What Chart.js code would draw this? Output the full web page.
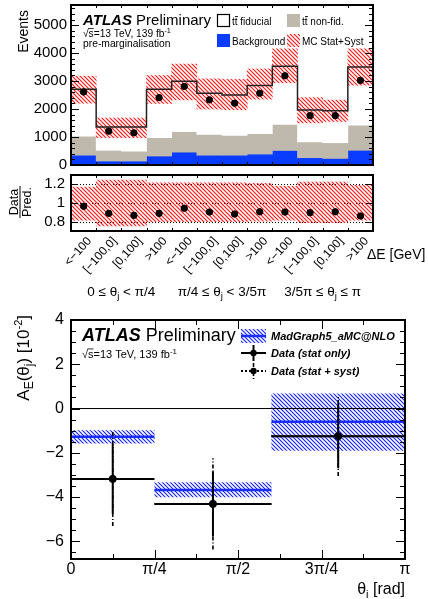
<!DOCTYPE html>
<html>
<head>
<meta charset="utf-8">
<title>Energy asymmetry</title>
<script src="https://cdn.jsdelivr.net/npm/chart.js@4/dist/chart.umd.min.js"></script>
<style>
  html, body { margin: 0; padding: 0; background: #fff; }
  #wrap { position: relative; width: 428px; height: 599px; overflow: hidden; }
  canvas { position: absolute; left: 0; }
</style>
</head>
<body>
<div id="wrap">
  <canvas id="events" width="428" height="170" style="top:0"></canvas>
  <canvas id="ratio" width="428" height="140" style="top:170px"></canvas>
  <canvas id="asym" width="428" height="299" style="top:300px"></canvas>
</div>
<script>
// ---- bins ----
const deltaEBins = ["<\u2212100", "[\u2212100,0]", "[0,100]", ">100"];
const thetaRegions = [
  ["0 \u2264 \u03b8", "j", " < \u03c0/4"],
  ["\u03c0/4 \u2264 \u03b8", "j", " < 3/5\u03c0"],
  ["3/5\u03c0 \u2264 \u03b8", "j", " \u2264 \u03c0"]
];

// ---- pre-marginalisation yields (12 bins) ----
const backgroundEvt = [350, 140, 140, 320, 460, 350, 350, 390, 520, 260, 235, 525];
const ttNonFid = [680, 385, 355, 660, 730, 745, 710, 730, 930, 565, 560, 900];
const ttFiducial = [1675, 830, 860, 1725, 1800, 1470, 1445, 1725, 2080, 1140, 1145, 2080];
const dataEvt = [2610, 1210, 1150, 2410, 2810, 2330, 2210, 2565, 3190, 1765, 1765, 3025];
const mcUncLo = [2210, 975, 975, 2200, 2330, 2000, 1975, 2355, 2940, 1505, 1555, 2850];
const mcUncHi = [3175, 1680, 1680, 3200, 3610, 3080, 3060, 3435, 4150, 2410, 2320, 4150];
const eventTicks = [0, 1000, 2000, 3000, 4000, 5000];

// ---- data / prediction ----
const ratioData = [0.965, 0.889, 0.868, 0.889, 0.944, 0.903, 0.882, 0.906, 0.903, 0.896, 0.906, 0.861];
const ratioUncLo = [0.815, 0.755, 0.755, 0.80, 0.80, 0.80, 0.80, 0.805, 0.815, 0.79, 0.79, 0.815];
const ratioUncHi = [1.17, 1.245, 1.245, 1.215, 1.215, 1.215, 1.215, 1.21, 1.18, 1.225, 1.225, 1.19];
const ratioTicks = [0.8, 1, 1.2];

// ---- A_E(theta_j) in units of 1e-2 ----
const thetaEdges = [0, Math.PI / 4, 0.6 * Math.PI, Math.PI];
const mcAsym = [-1.28, -3.68, -0.60];
const mcAsymLo = [-1.58, -4.01, -1.91];
const mcAsymHi = [-0.98, -3.33, 0.68];
const dataAsym = [-3.18, -4.31, -1.25];
const dataStatErr = [1.58, 1.47, 1.45];
const dataTotErr = [2.13, 2.06, 1.80];
const asymTicks = [-6, -4, -2, 0, 2, 4];
const thetaTickLabels = ["0", "\u03c0/4", "\u03c0/2", "3\u03c0/4", "\u03c0"];

const FONT = "'Liberation Sans', Arial, Helvetica, sans-serif";
const GRAY = '#bfb8ad';
const BLUE = '#0a3cff';

function hatch(color, step, width) {
  const c = document.createElement('canvas');
  c.width = c.height = step;
  const g = c.getContext('2d');
  g.strokeStyle = color;
  g.lineWidth = width;
  g.beginPath();
  g.moveTo(-1, -1); g.lineTo(step + 1, step + 1);
  g.moveTo(-1, step - 1); g.lineTo(1, step + 1);
  g.moveTo(step - 1, -1); g.lineTo(step + 1, 1);
  g.stroke();
  return g.createPattern(c, 'repeat');
}
const redHatch = hatch('#ff1a1a', 4, 1.2);
const blueHatch = hatch('#1020ff', 4, 1.1);

const fontOf = p => `${p[2] || ''} ${p[1]}px ${FONT}`;
// draws a run of text pieces: [text, size, style, baseline shift]
function rich(ctx, parts, x, y, align) {
  let w = 0;
  parts.forEach(p => { ctx.font = fontOf(p); w += ctx.measureText(p[0]).width; });
  let cx = align === 'right' ? x - w : align === 'center' ? x - w / 2 : x;
  ctx.textAlign = 'left';
  ctx.textBaseline = 'alphabetic';
  parts.forEach(p => {
    ctx.font = fontOf(p);
    ctx.fillText(p[0], cx, y + (p[3] || 0));
    cx += ctx.measureText(p[0]).width;
  });
}
// "tt" with a bar over the second t
function ttbar(ctx, x, y, rest, size) {
  ctx.font = `${size}px ${FONT}`;
  ctx.textAlign = 'left';
  const wt = ctx.measureText('t').width;
  ctx.fillText('tt' + rest, x, y);
  ctx.fillRect(x + wt + 0.3, y - size * 0.9, wt, 0.9);
}
// sqrt(s) line with the overbar of the radical
function energyLine(ctx, x, y, size) {
  rich(ctx, [["\u221as=13 TeV, 139 fb", size], ["-1", size * 0.72, '', -size * 0.38]], x, y, 'left');
  ctx.font = `${size}px ${FONT}`;
  const wr = ctx.measureText('\u221a').width;
  const ws = ctx.measureText('s').width;
  ctx.fillRect(x + wr - 0.6, y - size * 0.86, ws + 0.6, 0.8);
}

function tickList(from, to, step, len) {
  const out = [];
  for (let v = from; v <= to + 1e-9; v += step) out.push([v, len]);
  return out;
}

// ROOT style frame with inward ticks on all four sides
const rootFrame = {
  id: 'rootFrame',
  afterDatasetsDraw(chart, args, opts) {
    const {ctx, chartArea: a} = chart;
    const xs = chart.scales.x, ys = chart.scales.y;
    ctx.save();
    ctx.strokeStyle = '#000';
    ctx.lineWidth = 1;
    ctx.beginPath();
    (opts.xTicks || []).forEach(([v, len]) => {
      const px = Math.round(xs.getPixelForValue(v)) + 0.5;
      ctx.moveTo(px, a.bottom); ctx.lineTo(px, a.bottom - len);
      ctx.moveTo(px, a.top); ctx.lineTo(px, a.top + len);
    });
    (opts.yTicks || []).forEach(([v, len]) => {
      const py = Math.round(ys.getPixelForValue(v)) + 0.5;
      ctx.moveTo(a.left, py); ctx.lineTo(a.left + len, py);
      ctx.moveTo(a.right, py); ctx.lineTo(a.right - len, py);
    });
    ctx.stroke();
    ctx.lineWidth = 2;
    ctx.strokeRect(a.left, a.top, a.right - a.left, a.bottom - a.top);
    ctx.restore();
  }
};

function yAxis(min, max, ticks, width, size, pad, fmt) {
  return {
    min: min, max: max,
    grid: {display: false, drawTicks: false},
    border: {display: false},
    afterBuildTicks: s => { s.ticks = ticks.map(v => ({value: v})); },
    afterFit: s => { s.width = width; s.paddingTop = 0; s.paddingBottom = 0; },
    ticks: {font: {family: FONT, size: size}, color: '#000', padding: pad, autoSkip: false,
            callback: fmt || (v => String(v))}
  };
}

const binCenters = backgroundEvt.map((v, i) => i + 0.5);
const common = {
  responsive: false,
  animation: false,
  events: [],
  plugins: {legend: {display: false}, tooltip: {enabled: false}}
};

// ================= event yields =================
const nonFidTop = backgroundEvt.map((b, i) => b + ttNonFid[i]);
const mcTotal = nonFidTop.map((b, i) => b + ttFiducial[i]);
// step outline: each point carries the level of the bin that ends there
const totalStep = [{x: 0, y: mcTotal[0]}].concat(mcTotal.map((v, i) => ({x: i + 1, y: v})));

new Chart(document.getElementById('events'), {
  type: 'bar',
  data: {
    datasets: [
      {type: 'scatter', data: dataEvt.map((v, i) => ({x: binCenters[i], y: v})),
       pointRadius: 3.2, pointBackgroundColor: '#000', pointBorderColor: '#000', order: 0},
      {type: 'line', data: totalStep, stepped: 'after', borderColor: '#222', borderWidth: 1.5,
       pointRadius: 0, order: 1},
      {data: mcUncLo.map((v, i) => ({x: binCenters[i], y: [v, mcUncHi[i]]})),
       backgroundColor: redHatch, grouped: false, order: 2},
      {data: ttFiducial.map((v, i) => ({x: binCenters[i], y: [nonFidTop[i], mcTotal[i]]})),
       backgroundColor: '#fff', grouped: false, order: 3},
      {data: ttNonFid.map((v, i) => ({x: binCenters[i], y: [backgroundEvt[i], nonFidTop[i]]})),
       backgroundColor: GRAY, grouped: false, order: 4},
      {data: backgroundEvt.map((v, i) => ({x: binCenters[i], y: [0, v]})),
       backgroundColor: BLUE, grouped: false, order: 5}
    ]
  },
  options: Object.assign({}, common, {
    datasets: {bar: {barPercentage: 1, categoryPercentage: 1, borderWidth: 0}},
    layout: {padding: {left: 0, right: 55, top: 5, bottom: 3}},
    plugins: Object.assign({}, common.plugins, {
      rootFrame: {xTicks: tickList(1, 11, 1, 3),
                  yTicks: tickList(0, 5600, 200, 4).concat(tickList(0, 5000, 1000, 8))}
    }),
    scales: {
      x: {type: 'linear', min: 0, max: 12, offset: false, display: false},
      y: yAxis(0, 5720, eventTicks, 71, 15, 4)
    }
  }),
  plugins: [rootFrame, {
    id: 'eventsText',
    afterDraw(chart) {
      const ctx = chart.ctx;
      ctx.save();
      ctx.fillStyle = '#000';
      ctx.translate(28, 10);
      ctx.rotate(-Math.PI / 2);
      rich(ctx, [["Events", 14]], 0, 0, 'right');
      ctx.restore();

      ctx.save();
      ctx.fillStyle = '#000';
      rich(ctx, [["ATLAS", 15, 'italic bold'], [" Preliminary", 15]], 83, 25, 'left');
      energyLine(ctx, 83, 37, 10.2);
      rich(ctx, [["pre-marginalisation", 10.3]], 83, 47, 'left');

      // legend
      ctx.fillStyle = '#fff';
      ctx.fillRect(217.5, 14.5, 12, 12);
      ctx.strokeStyle = '#000';
      ctx.lineWidth = 1.2;
      ctx.strokeRect(217.5, 14.5, 12, 12);
      ctx.fillStyle = GRAY;
      ctx.fillRect(287, 14, 13, 13);
      ctx.fillStyle = BLUE;
      ctx.fillRect(217, 34, 13, 13);
      ctx.fillStyle = redHatch;
      ctx.fillRect(287, 34, 13, 13);
      ctx.fillStyle = '#000';
      ttbar(ctx, 232, 25, ' fiducial', 10);
      ttbar(ctx, 302, 25, ' non-fid.', 10);
      rich(ctx, [["Background", 10]], 232, 45, 'left');
      rich(ctx, [["MC Stat+Syst", 10]], 302, 45, 'left');
      ctx.restore();
    }
  }]
});

// ================= data / prediction =================
new Chart(document.getElementById('ratio'), {
  type: 'bar',
  data: {
    datasets: [
      {type: 'scatter', data: ratioData.map((v, i) => ({x: binCenters[i], y: v})),
       pointRadius: 3.2, pointBackgroundColor: '#000', pointBorderColor: '#000', order: 0},
      {data: ratioUncLo.map((v, i) => ({x: binCenters[i], y: [v, ratioUncHi[i]]})),
       backgroundColor: redHatch, grouped: false, order: 1}
    ]
  },
  options: Object.assign({}, common, {
    datasets: {bar: {barPercentage: 1, categoryPercentage: 1, borderWidth: 0}},
    layout: {padding: {left: 0, right: 55, top: 2, bottom: 79}},
    plugins: Object.assign({}, common.plugins, {
      rootFrame: {xTicks: tickList(1, 11, 1, 3), yTicks: tickList(0.8, 1.2, 0.2, 7)}
    }),
    scales: {
      x: {type: 'linear', min: 0, max: 12, offset: false, display: false},
      y: yAxis(0.7, 1.3, ratioTicks, 71, 15, 6)
    }
  }),
  plugins: [{
    id: 'refLines',
    beforeDatasetsDraw(chart) {
      const {ctx, chartArea: a} = chart;
      const ys = chart.scales.y;
      ctx.save();
      ctx.strokeStyle = '#000';
      ctx.lineWidth = 1;
      ctx.setLineDash([1, 2]);
      ratioTicks.forEach(v => {
        const py = Math.round(ys.getPixelForValue(v)) + 0.5;
        ctx.beginPath(); ctx.moveTo(a.left, py); ctx.lineTo(a.right, py); ctx.stroke();
      });
      ctx.restore();
    }
  }, rootFrame, {
    id: 'ratioText',
    afterDraw(chart) {
      const ctx = chart.ctx;
      const xs = chart.scales.x;
      const a = chart.chartArea;
      ctx.save();
      ctx.fillStyle = '#000';
      // Data / Pred. fraction
      ctx.save();
      ctx.translate(20, 32);
      ctx.rotate(-Math.PI / 2);
      rich(ctx, [["Data", 12.5]], 0, -2, 'center');
      rich(ctx, [["Pred.", 12.5]], 0, 10.5, 'center');
      ctx.fillRect(-16, -0.5, 32, 1);
      ctx.restore();

      // rotated Delta E bin labels
      ctx.font = `12px ${FONT}`;
      ctx.textAlign = 'right';
      ctx.textBaseline = 'middle';
      binCenters.forEach((c, i) => {
        ctx.save();
        ctx.translate(xs.getPixelForValue(c) + 6, a.bottom + 8);
        ctx.rotate(-48 * Math.PI / 180);
        ctx.fillText(deltaEBins[i % 4], 0, 0);
        ctx.restore();
      });
      rich(ctx, [["\u0394E [GeV]", 14]], 367, 89, 'left');

      // theta_j regions under each group of four bins
      thetaRegions.forEach((r, k) => {
        rich(ctx, [[r[0], 13.5], [r[1], 9.5, '', 3], [r[2], 13.5]],
             xs.getPixelForValue(4 * k + 2), 126, 'center');
      });
      ctx.restore();
    }
  }]
});

// ================= A_E(theta_j) =================
const centers = mcAsym.map((v, i) => (thetaEdges[i] + thetaEdges[i + 1]) / 2);
// stepped outline over the theta bins, one level per bin
const stepOf = arr => [{x: 0, y: arr[0]}].concat(arr.map((v, i) => ({x: thetaEdges[i + 1], y: v})));
function binSegments(vals) {
  const pts = [];
  vals.forEach((v, i) => {
    if (i) pts.push({x: thetaEdges[i], y: null});
    pts.push({x: thetaEdges[i], y: v}, {x: thetaEdges[i + 1], y: v});
  });
  return pts;
}
function errSegments(err) {
  const pts = [];
  dataAsym.forEach((v, i) => {
    if (i) pts.push({x: centers[i], y: null});
    pts.push({x: centers[i], y: v - err[i]}, {x: centers[i], y: v + err[i]});
  });
  return pts;
}
const lineDefaults = {type: 'line', pointRadius: 0, fill: false, spanGaps: false, tension: 0};

new Chart(document.getElementById('asym'), {
  type: 'line',
  data: {
    datasets: [
      Object.assign({}, lineDefaults, {data: dataAsym.map((v, i) => ({x: centers[i], y: v})),
       pointRadius: 3.6, pointBackgroundColor: '#000', pointBorderColor: '#000', showLine: false, order: 0}),
      Object.assign({}, lineDefaults, {data: errSegments(dataStatErr), borderColor: '#000', borderWidth: 2, order: 1}),
      Object.assign({}, lineDefaults, {data: errSegments(dataTotErr), borderColor: '#000', borderWidth: 1.6,
       borderDash: [4, 2, 1, 2], order: 2}),
      Object.assign({}, lineDefaults, {data: binSegments(dataAsym), borderColor: '#000', borderWidth: 2, order: 3}),
      Object.assign({}, lineDefaults, {data: binSegments(dataAsym), borderColor: '#000', borderWidth: 2,
       borderDash: [2, 2], order: 4}),
      Object.assign({}, lineDefaults, {data: binSegments(mcAsym), borderColor: '#1a2cff', borderWidth: 2.5, order: 5}),
      Object.assign({}, lineDefaults, {data: [{x: 0, y: 0}, {x: Math.PI, y: 0}], borderColor: '#000', borderWidth: 1, order: 6}),
      Object.assign({}, lineDefaults, {data: stepOf(mcAsymHi), stepped: 'after', borderColor: 'rgba(0,0,0,0)',
       borderWidth: 1, fill: '+1', backgroundColor: blueHatch, order: 7}),
      Object.assign({}, lineDefaults, {data: stepOf(mcAsymLo), stepped: 'after', borderColor: 'rgba(0,0,0,0)',
       borderWidth: 1, order: 8})
    ]
  },
  options: Object.assign({}, common, {
    layout: {padding: {left: 0, right: 23, top: 20, bottom: 0}},
    plugins: Object.assign({}, common.plugins, {
      filler: {propagate: false},
      rootFrame: {xTicks: tickList(0, Math.PI, Math.PI / 8, 5).concat(tickList(0, Math.PI, Math.PI / 4, 9)),
                  yTicks: tickList(-6.5, 4, 0.5, 5).concat(tickList(-6, 4, 2, 9))}
    }),
    scales: {
      x: {type: 'linear', min: 0, max: Math.PI, offset: false,
          grid: {display: false, drawTicks: false}, border: {display: false},
          afterBuildTicks: s => { s.ticks = thetaTickLabels.map((t, i) => ({value: i * Math.PI / 4})); },
          afterFit: s => { s.height = 40; s.paddingLeft = 0; s.paddingRight = 0; },
          ticks: {font: {family: FONT, size: 16}, color: '#000', padding: 1, autoSkip: false, maxRotation: 0,
                  callback: (v, i) => thetaTickLabels[i]}},
      y: yAxis(-6.8, 4, asymTicks, 71, 16, 7, v => v < 0 ? '\u2212' + Math.abs(v) : String(v))
    }
  }),
  plugins: [rootFrame, {
    id: 'asymText',
    afterDraw(chart) {
      const ctx = chart.ctx;
      ctx.save();
      ctx.fillStyle = '#000';
      ctx.save();
      ctx.translate(29, 15);
      ctx.rotate(-Math.PI / 2);
      rich(ctx, [["A", 17], ["E", 12, '', 4], ["(\u03b8", 17], ["j", 12, '', 4], [") [10", 17],
                 ["-2", 11, '', -7], ["]", 17]], 0, 0, 'right');
      ctx.restore();

      rich(ctx, [["\u03b8", 16], ["i", 11, '', 4], [" [rad]", 16]], 405, 294, 'right');
      rich(ctx, [["ATLAS", 18, 'italic bold'], [" Preliminary", 18]], 82, 41, 'left');
      energyLine(ctx, 82, 58, 11);

      // legend
      ctx.fillStyle = blueHatch;
      ctx.fillRect(241, 29, 25, 14);
      ctx.strokeStyle = '#1a2cff';
      ctx.lineWidth = 2.5;
      ctx.beginPath(); ctx.moveTo(241, 36); ctx.lineTo(266, 36); ctx.stroke();

      ctx.strokeStyle = '#000';
      ctx.fillStyle = '#000';
      ctx.lineWidth = 2;
      ctx.beginPath();
      ctx.moveTo(241, 53); ctx.lineTo(266, 53);
      ctx.moveTo(253.5, 45); ctx.lineTo(253.5, 61);
      ctx.stroke();
      ctx.beginPath(); ctx.arc(253.5, 53, 3.2, 0, 2 * Math.PI); ctx.fill();

      ctx.setLineDash([2, 2]);
      ctx.beginPath(); ctx.moveTo(241, 71); ctx.lineTo(266, 71); ctx.stroke();
      ctx.setLineDash([4, 2, 1, 2]);
      ctx.lineWidth = 1.6;
      ctx.beginPath(); ctx.moveTo(253.5, 63); ctx.lineTo(253.5, 79); ctx.stroke();
      ctx.setLineDash([]);
      ctx.beginPath(); ctx.arc(253.5, 71, 3.2, 0, 2 * Math.PI); ctx.fill();

      rich(ctx, [["MadGraph5_aMC@NLO", 11, 'italic bold']], 271, 40, 'left');
      rich(ctx, [["Data (stat only)", 11, 'italic bold']], 271, 57, 'left');
      rich(ctx, [["Data (stat + syst)", 11, 'italic bold']], 271, 75, 'left');
      ctx.restore();
    }
  }]
});
</script>
</body>
</html>
